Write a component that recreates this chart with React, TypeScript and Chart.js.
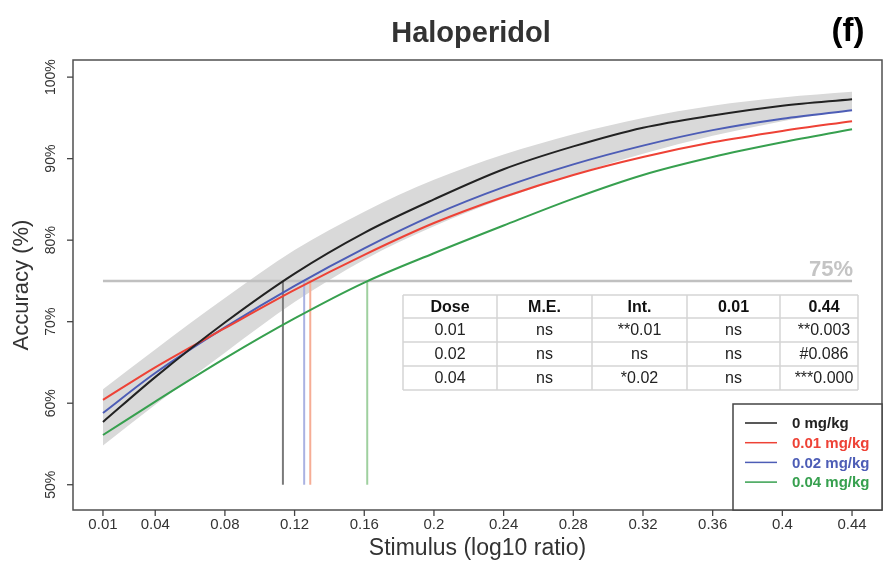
import { useEffect, useRef } from 'react';
import { Chart, registerables } from 'chart.js';

Chart.register(...registerables);

const SANS = '"Liberation Sans", Arial, sans-serif';
const NARROW = '"Liberation Sans Narrow", "Arial Narrow", "Liberation Sans", sans-serif';

// Stimulus (log10 ratio) sample positions
const XS = [0.01, 0.04, 0.08, 0.12, 0.16, 0.2, 0.24, 0.28, 0.32, 0.36, 0.4, 0.44];
// Accuracy (%) per dose
const ACC_0 = [57.7, 63.2, 69.9, 75.9, 80.9, 85.0, 88.7, 91.5, 93.8, 95.3, 96.5, 97.3];
const ACC_001 = [60.4, 64.4, 69.2, 73.9, 78.2, 82.1, 85.3, 88.0, 90.2, 92.0, 93.4, 94.6];
const ACC_002 = [58.8, 63.7, 69.3, 74.4, 79.0, 83.1, 86.5, 89.3, 91.6, 93.5, 94.9, 95.95];
const ACC_004 = [56.1, 60.2, 65.5, 70.4, 74.8, 78.4, 81.8, 85.1, 88.0, 90.2, 92.0, 93.6];
// confidence band around 0 mg/kg
const CI_LOW = [54.8, 59.8, 66.2, 72.4, 77.6, 81.7, 85.1, 88.0, 90.6, 92.8, 94.6, 96.0];
const CI_HIGH = [61.7, 66.6, 72.9, 78.8, 83.5, 87.4, 90.5, 93.0, 95.0, 96.5, 97.5, 98.2];
// stimulus at 75% accuracy per dose
const THRESHOLD = 75;
const THRESH_X = [0.1133, 0.129, 0.1255, 0.1617];

const DOSE_LABELS = ['0 mg/kg', '0.01 mg/kg', '0.02 mg/kg', '0.04 mg/kg'];
const DOSE_COLORS = ['#222222', '#ee4236', '#4d5db6', '#37a04f'];
const VLINE_COLORS = ['#7a7a7a', '#f6ad95', '#aab2e2', '#9fd09f'];

const X_TICKS = [0.01, 0.04, 0.08, 0.12, 0.16, 0.2, 0.24, 0.28, 0.32, 0.36, 0.4, 0.44];
const Y_TICKS = [50, 60, 70, 80, 90, 100];

const TABLE_HEAD = ['Dose', 'M.E.', 'Int.', '0.01', '0.44'];
const TABLE_ROWS = [
  ['0.01', 'ns', '**0.01', 'ns', '**0.003'],
  ['0.02', 'ns', 'ns', 'ns', '#0.086'],
  ['0.04', 'ns', '*0.02', 'ns', '***0.000'],
];

const TITLE = 'Haloperidol';
const PANEL = '(f)';
const X_TITLE = 'Stimulus (log10 ratio)';
const Y_TITLE = 'Accuracy (%)';

const pts = (ys: number[]) => XS.map((x, i) => ({ x, y: ys[i] }));

const overlay = {
  id: 'overlay',
  afterDraw(chart: any) {
    const ctx = chart.ctx as CanvasRenderingContext2D;
    const xs = chart.scales.x;
    const ys = chart.scales.y;
    const a = chart.chartArea;
    ctx.save();

    // box
    ctx.strokeStyle = '#505050';
    ctx.lineWidth = 1.5;
    ctx.strokeRect(a.left, a.top, a.right - a.left, a.bottom - a.top);

    // x ticks
    ctx.lineWidth = 1.3;
    ctx.strokeStyle = '#444';
    ctx.fillStyle = '#333';
    ctx.font = `15px ${NARROW}`;
    ctx.textAlign = 'center';
    ctx.textBaseline = 'middle';
    X_TICKS.forEach((v) => {
      const px = xs.getPixelForValue(v);
      ctx.beginPath();
      ctx.moveTo(px, a.bottom);
      ctx.lineTo(px, a.bottom + 6);
      ctx.stroke();
      ctx.fillText(String(v), px, a.bottom + 15);
    });
    // x title
    ctx.font = `23px ${NARROW}`;
    ctx.fillText(X_TITLE, (a.left + a.right) / 2, a.bottom + 39);

    // y ticks
    ctx.font = `14px ${SANS}`;
    Y_TICKS.forEach((v) => {
      const py = ys.getPixelForValue(v);
      ctx.beginPath();
      ctx.moveTo(a.left, py);
      ctx.lineTo(a.left - 6, py);
      ctx.stroke();
      ctx.save();
      ctx.translate(a.left - 22, py);
      ctx.rotate(-Math.PI / 2);
      ctx.fillText(`${v}%`, 0, 0);
      ctx.restore();
    });
    // y title
    ctx.save();
    ctx.font = `22px ${SANS}`;
    ctx.translate(22, (a.top + a.bottom) / 2);
    ctx.rotate(-Math.PI / 2);
    ctx.fillText(Y_TITLE, 0, 0);
    ctx.restore();

    // titles
    ctx.fillStyle = '#333';
    ctx.font = `bold 29px ${SANS}`;
    ctx.textBaseline = 'alphabetic';
    ctx.fillText(TITLE, 471, 42);
    ctx.fillStyle = '#000';
    ctx.font = `bold 33px ${SANS}`;
    ctx.fillText(PANEL, 848, 41);

    // 75% label
    ctx.fillStyle = '#c4c4c4';
    ctx.font = `bold 22px ${SANS}`;
    ctx.textAlign = 'right';
    ctx.fillText(`${THRESHOLD}%`, xs.getPixelForValue(XS[XS.length - 1]) + 1, ys.getPixelForValue(THRESHOLD) - 5);

    // table
    const colX = [403, 497, 592, 687, 780, 858];
    const rowY = [295, 318, 342, 366, 390];
    ctx.fillStyle = '#fff';
    ctx.fillRect(colX[0], rowY[0], colX[5] - colX[0], rowY[4] - rowY[0]);
    ctx.strokeStyle = '#d4d4d4';
    ctx.lineWidth = 1.5;
    rowY.forEach((y) => {
      ctx.beginPath();
      ctx.moveTo(colX[0], y);
      ctx.lineTo(colX[5], y);
      ctx.stroke();
    });
    colX.forEach((x) => {
      ctx.beginPath();
      ctx.moveTo(x, rowY[0]);
      ctx.lineTo(x, rowY[4]);
      ctx.stroke();
    });
    ctx.textAlign = 'center';
    ctx.textBaseline = 'middle';
    ctx.fillStyle = '#111';
    const colCenter = (i: number) => (i === 4 ? 824 : (colX[i] + colX[i + 1]) / 2);
    ctx.font = `bold 16px ${SANS}`;
    TABLE_HEAD.forEach((t, i) => ctx.fillText(t, colCenter(i), (rowY[0] + rowY[1]) / 2 + 1));
    ctx.font = `16px ${SANS}`;
    ctx.fillStyle = '#222';
    TABLE_ROWS.forEach((row, r) => {
      row.forEach((t, i) => ctx.fillText(t, colCenter(i), (rowY[r + 1] + rowY[r + 2]) / 2 + 1));
    });

    // legend
    const lx = 733, ly = 404;
    ctx.fillStyle = '#fff';
    ctx.fillRect(lx, ly, a.right - lx, a.bottom - ly);
    ctx.strokeStyle = '#444';
    ctx.lineWidth = 1.5;
    ctx.strokeRect(lx, ly, a.right - lx, a.bottom - ly);
    ctx.textAlign = 'left';
    ctx.font = `bold 15px ${SANS}`;
    DOSE_LABELS.forEach((lab, i) => {
      const y = 423 + i * 19.7;
      ctx.strokeStyle = DOSE_COLORS[i];
      ctx.lineWidth = 1.5;
      ctx.beginPath();
      ctx.moveTo(745, y);
      ctx.lineTo(777, y);
      ctx.stroke();
      ctx.fillStyle = DOSE_COLORS[i];
      ctx.fillText(lab, 792, y + 1);
    });

    ctx.restore();
  },
};

export default function App() {
  const ref = useRef<HTMLCanvasElement | null>(null);

  useEffect(() => {
    if (!ref.current) return;
    const series = [ACC_0, ACC_001, ACC_002, ACC_004];
    const curveSets = series.map((ys, i) => ({
      label: DOSE_LABELS[i],
      data: pts(ys),
      borderColor: DOSE_COLORS[i],
      borderWidth: 2,
      pointRadius: 0,
      fill: false,
      cubicInterpolationMode: 'monotone' as const,
      order: i,
    }));
    const vSets = THRESH_X.map((tx, i) => ({
      label: `thr-${i}`,
      data: [{ x: tx, y: 50 }, { x: tx, y: THRESHOLD }],
      borderColor: VLINE_COLORS[i],
      borderWidth: 2,
      pointRadius: 0,
      fill: false,
      order: 8 + i,
    }));
    const chart = new Chart(ref.current, {
      type: 'line',
      data: {
        datasets: [
          {
            label: 'ci-low',
            data: pts(CI_LOW),
            borderWidth: 0,
            borderColor: 'rgba(0,0,0,0)',
            pointRadius: 0,
            fill: false,
            cubicInterpolationMode: 'monotone',
            order: 30,
          },
          {
            label: 'ci-high',
            data: pts(CI_HIGH),
            borderWidth: 0,
            borderColor: 'rgba(0,0,0,0)',
            backgroundColor: 'rgb(217,217,217)',
            pointRadius: 0,
            fill: '-1',
            cubicInterpolationMode: 'monotone',
            order: 29,
          },
          {
            label: 'ref75',
            data: [
              { x: XS[0], y: THRESHOLD },
              { x: XS[XS.length - 1], y: THRESHOLD },
            ],
            borderColor: '#c0c0c0',
            borderWidth: 2.5,
            pointRadius: 0,
            fill: false,
            order: 20,
          },
          ...vSets,
          ...curveSets,
        ] as any,
      },
      options: {
        animation: false,
        responsive: false,
        maintainAspectRatio: false,
        layout: { padding: { left: 73, top: 60, right: 5, bottom: 53 } },
        plugins: { legend: { display: false }, tooltip: { enabled: false }, title: { display: false } },
        scales: {
          x: { type: 'linear', min: -0.0072, max: 0.4572, display: false },
          y: { type: 'linear', min: 46.9, max: 102.1, display: false },
        },
      },
      plugins: [overlay],
    });
    return () => chart.destroy();
  }, []);

  return (
    <div style={{ position: 'absolute', left: 0, top: 0, width: 887, height: 563, background: '#fff' }}>
      <canvas ref={ref} width={887} height={563} style={{ width: 887, height: 563, display: 'block' }} />
    </div>
  );
}
